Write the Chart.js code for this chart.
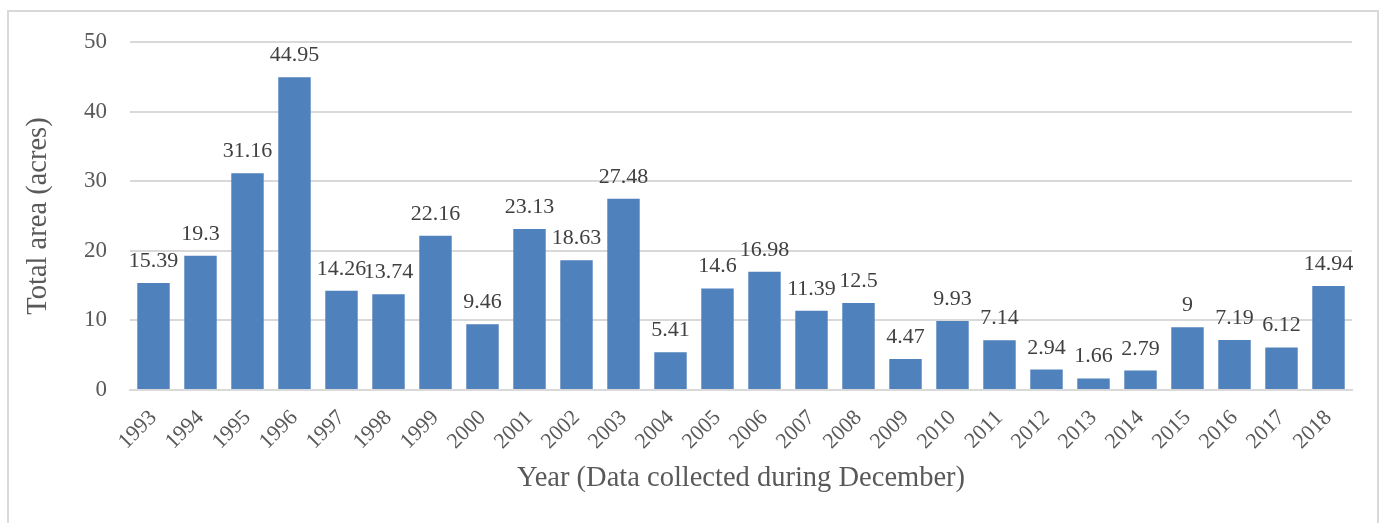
<!DOCTYPE html>
<html>
<head>
<meta charset="utf-8">
<script src="https://cdn.jsdelivr.net/npm/chart.js@4"></script>
<style>
  html, body { margin: 0; padding: 0; background: #fff; }
  #wrap { position: relative; width: 1387px; height: 523px; overflow: hidden; }
  #frame { position: absolute; left: 7px; top: 10px; width: 1372px; height: 530px;
           border: 2px solid #d9d9d9; box-sizing: border-box; pointer-events: none; }
  canvas { position: absolute; left: 0; top: 0; }
</style>
</head>
<body>
<div id="wrap">
  <canvas id="c" width="1387" height="523"></canvas>
  <div id="frame"></div>
</div>
<script>
const years = ['1993','1994','1995','1996','1997','1998','1999','2000','2001','2002','2003','2004','2005','2006','2007','2008','2009','2010','2011','2012','2013','2014','2015','2016','2017','2018'];
const areaAcres = [15.39, 19.3, 31.16, 44.95, 14.26, 13.74, 22.16, 9.46, 23.13, 18.63, 27.48, 5.41, 14.6, 16.98, 11.39, 12.5, 4.47, 9.93, 7.14, 2.94, 1.66, 2.79, 9, 7.19, 6.12, 14.94];
const yTicks = [0, 10, 20, 30, 40, 50];
const xTitle = 'Year (Data collected during December)';
const yTitle = 'Total area (acres)';

const FONT = "'Liberation Serif', 'Times New Roman', serif";

const valueLabels = {
  id: 'valueLabels',
  afterDatasetsDraw(chart) {
    const ctx = chart.ctx;
    const meta = chart.getDatasetMeta(0);
    ctx.save();
    ctx.font = '22px ' + FONT;
    ctx.fillStyle = '#404040';
    ctx.textAlign = 'center';
    ctx.textBaseline = 'alphabetic';
    meta.data.forEach((bar, i) => {
      ctx.fillText(String(areaAcres[i]), bar.x, bar.y - 16);
    });
    ctx.restore();
  }
};

new Chart(document.getElementById('c'), {
  type: 'bar',
  data: {
    labels: years,
    datasets: [{
      data: areaAcres,
      backgroundColor: '#4f81bd',
      borderWidth: 0,
      barPercentage: 0.69,
      categoryPercentage: 1.0
    }]
  },
  options: {
    responsive: false,
    animation: false,
    devicePixelRatio: 1,
    layout: { padding: { left: 0, right: 35, top: 42, bottom: 0 } },
    plugins: { legend: { display: false }, tooltip: { enabled: false } },
    scales: {
      x: {
        grid: { display: false, drawTicks: false },
        border: { display: true, color: '#d9d9d9', width: 2 },
        ticks: {
          color: '#595959',
          font: { family: FONT, size: 22 },
          minRotation: 45,
          maxRotation: 45,
          padding: 15,
          autoSkip: false
        },
        title: {
          display: true,
          text: xTitle,
          color: '#595959',
          font: { family: FONT, size: 28.5 },
          padding: { top: 0, bottom: 27 }
        },
        afterFit(scale) { scale.height = 133; }
      },
      y: {
        min: 0,
        max: 50,
        afterBuildTicks(scale) { scale.ticks = yTicks.map(v => ({ value: v })); },
        grid: { color: '#d9d9d9', lineWidth: 2, drawTicks: false },
        border: { display: false },
        ticks: {
          color: '#595959',
          font: { family: FONT, size: 23 },
          padding: 23
        },
        title: {
          display: true,
          text: yTitle,
          color: '#595959',
          font: { family: FONT, size: 28.5 },
          padding: { top: 21, bottom: 0 }
        },
        afterFit(scale) { scale.width = 130; }
      }
    }
  },
  plugins: [valueLabels]
});
</script>
</body>
</html>
